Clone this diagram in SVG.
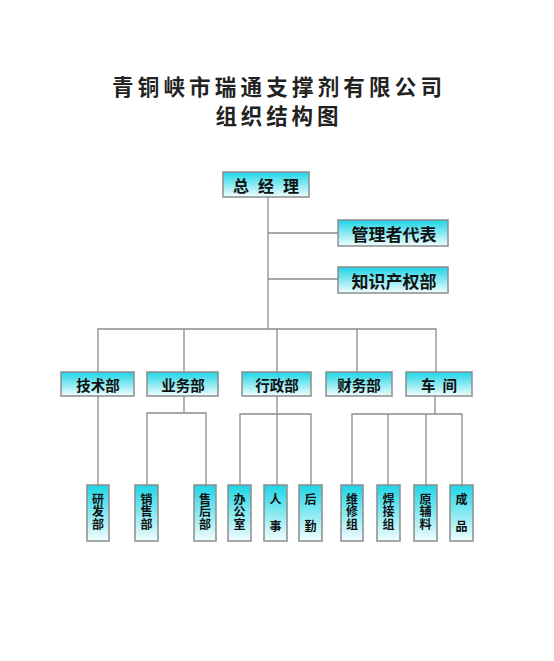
<svg xmlns="http://www.w3.org/2000/svg" width="554" height="661" viewBox="0 0 554 661">
<defs>
<linearGradient id="g" x1="0" y1="0" x2="0" y2="1">
<stop offset="0" stop-color="#1cd5e6"/>
<stop offset="1" stop-color="#f2fdfe"/>
</linearGradient>
<style>
.box{fill:url(#g);stroke:#8c8c8c;stroke-width:1.5}
.t{font-family:"Noto Sans CJK SC","Noto Sans",sans-serif;font-weight:bold;fill:#111;text-anchor:middle;dominant-baseline:central}
.v{font-family:"Noto Sans CJK SC","Noto Sans",sans-serif;font-weight:bold;fill:#111;font-size:12px;writing-mode:vertical-rl;text-orientation:upright;text-anchor:start;letter-spacing:0.5px}
.v2{letter-spacing:15px}
.ttl{font-family:"Noto Sans CJK SC","Noto Sans",sans-serif;font-weight:bold;fill:#222;text-anchor:middle}
.c{stroke:#8c8c8c;stroke-width:1.3;fill:none}
</style>
</defs>
<rect width="554" height="661" fill="#fff"/>
<g id="title">
<text class="ttl" x="277" y="95" font-size="21.5" textLength="330" lengthAdjust="spacing">青铜峡市瑞通支撑剂有限公司</text>
<text class="ttl" x="277" y="124" font-size="21.5" textLength="123" lengthAdjust="spacing">组织结构图</text>
</g>
<g id="connectors">
<path class="c" d="M268 197V329M268 233H338M268 279H338"/>
<path class="c" d="M98 372V329H436V372M184 329V372M277 329V372M357 329V372"/>
<path class="c" d="M98 396V485"/>
<path class="c" d="M184 396V413M147 485V413H206V485"/>
<path class="c" d="M277 396V485M240 485V414H311V485"/>
<path class="c" d="M435 396V414M352 485V414H462V485M388 414V485M426 414V485"/>
</g>
<g id="n-gm"><rect class="box" x="223" y="172" width="86" height="25"/><text class="t" x="266" y="185" font-size="16" textLength="66" lengthAdjust="spacing">总 经 理</text></g>
<g id="n-rep"><rect class="box" x="338" y="220" width="110" height="26"/><text class="t" x="394" y="233" font-size="17">管理者代表</text></g>
<g id="n-ip"><rect class="box" x="338" y="267" width="110" height="26"/><text class="t" x="394" y="280" font-size="17">知识产权部</text></g>
<g id="n-tech"><rect class="box" x="61" y="372" width="73" height="24"/><text class="t" x="98" y="384" font-size="14.5">技术部</text></g>
<g id="n-biz"><rect class="box" x="147" y="372" width="71" height="24"/><text class="t" x="183" y="384" font-size="14.5">业务部</text></g>
<g id="n-adm"><rect class="box" x="242" y="372" width="69" height="24"/><text class="t" x="277" y="384" font-size="14.5">行政部</text></g>
<g id="n-fin"><rect class="box" x="326" y="372" width="66" height="24"/><text class="t" x="359" y="384" font-size="14.5">财务部</text></g>
<g id="n-ws"><rect class="box" x="406" y="372" width="66" height="24"/><text class="t" x="439" y="384" font-size="14.5" textLength="36" lengthAdjust="spacing">车 间</text></g>
<g id="n-rd"><rect class="box" x="87" y="485" width="22" height="56"/><text class="v" x="98" y="493">研发部</text></g>
<g id="n-sales"><rect class="box" x="135" y="485" width="23" height="56"/><text class="v" x="146.5" y="493">销售部</text></g>
<g id="n-after"><rect class="box" x="194" y="485" width="22" height="56"/><text class="v" x="205" y="493">售后部</text></g>
<g id="n-office"><rect class="box" x="228" y="485" width="23" height="56"/><text class="v" x="239.5" y="493">办公室</text></g>
<g id="n-hr"><rect class="box" x="264" y="485" width="23" height="56"/><text class="v v2" x="275.5" y="493">人事</text></g>
<g id="n-log"><rect class="box" x="299" y="485" width="23" height="56"/><text class="v v2" x="310.5" y="493">后勤</text></g>
<g id="n-maint"><rect class="box" x="341" y="485" width="22" height="56"/><text class="v" x="352" y="493">维修组</text></g>
<g id="n-weld"><rect class="box" x="377" y="485" width="23" height="56"/><text class="v" x="388.5" y="493">焊接组</text></g>
<g id="n-raw"><rect class="box" x="414" y="485" width="23" height="56"/><text class="v" x="425.5" y="493">原辅料</text></g>
<g id="n-prod"><rect class="box" x="450" y="485" width="23" height="56"/><text class="v v2" x="461.5" y="493">成品</text></g>
</svg>
